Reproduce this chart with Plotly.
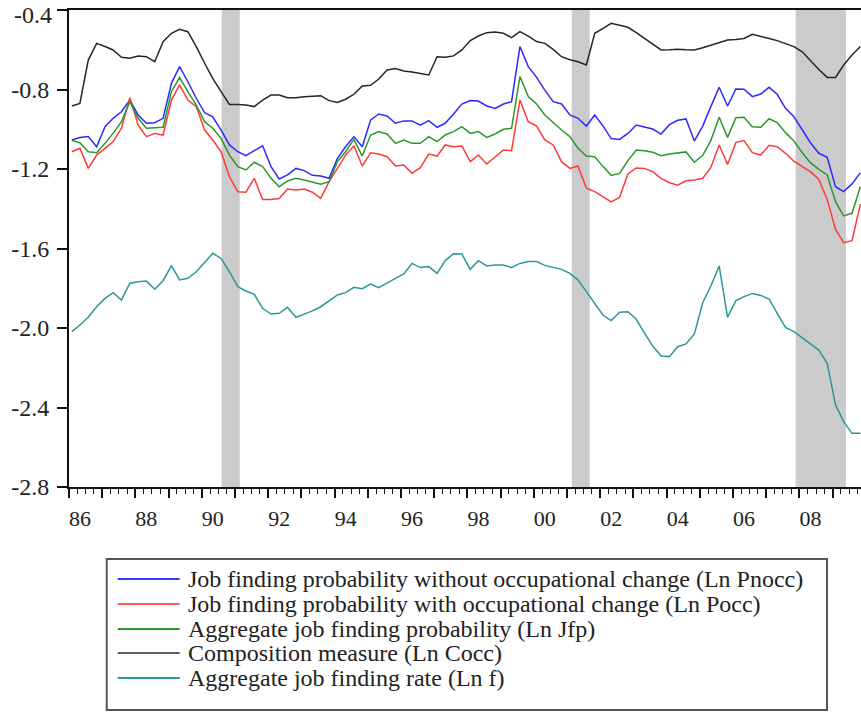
import pandas as pd
import plotly.graph_objects as go

# Quarterly observations 1986Q1 - 2009Q4 (plotted at the middle month of each quarter)
quarters = pd.period_range("1986Q1", "2009Q4", freq="Q")
dates = [p.start_time + pd.DateOffset(months=1) for p in quarters]

ln_pnocc = [
    -1.054, -1.042, -1.037, -1.088, -0.987, -0.945, -0.912, -0.853, -0.928, -0.970,
    -0.967, -0.945, -0.769, -0.685, -0.761, -0.844, -0.917, -0.937, -1.004, -1.079,
    -1.113, -1.133, -1.108, -1.083, -1.188, -1.250, -1.230, -1.197,
    -1.208, -1.232, -1.235, -1.247, -1.146, -1.088, -1.037, -1.088, -0.953, -0.923,
    -0.933, -0.970, -0.958, -0.958, -0.979, -0.957, -0.990, -0.970, -0.923, -0.873,
    -0.856, -0.858, -0.883, -0.895, -0.873, -0.861, -0.584, -0.685, -0.739, -0.803,
    -0.861, -0.873, -0.928,
    -0.945, -0.984, -0.928, -0.984, -1.047, -1.051, -1.021, -0.979, -0.987, -0.999,
    -1.024, -0.977, -0.955, -0.948, -1.059, -0.984, -0.886, -0.789, -0.883, -0.797,
    -0.799, -0.836, -0.823, -0.789, -0.824, -0.895, -0.937, -1.000, -1.068, -1.121,
    -1.141, -1.289, -1.314, -1.275, -1.218,
]

ln_pocc = [
    -1.113, -1.096, -1.197, -1.130, -1.096, -1.062, -0.995, -0.841, -0.979, -1.037,
    -1.021, -1.029, -0.853, -0.777, -0.853, -0.886, -1.004, -1.054, -1.113, -1.239,
    -1.314, -1.317, -1.247, -1.353, -1.353, -1.348, -1.301, -1.306,
    -1.301, -1.317, -1.348, -1.264, -1.197, -1.130, -1.084, -1.185, -1.118, -1.125,
    -1.138, -1.185, -1.180, -1.222, -1.193, -1.125, -1.135, -1.079, -1.088, -1.084,
    -1.163, -1.130, -1.175, -1.138, -1.104, -1.108, -0.853, -0.962, -0.984, -1.054,
    -1.079, -1.163, -1.197,
    -1.185, -1.297, -1.314, -1.339, -1.366, -1.343, -1.225, -1.195, -1.197, -1.213,
    -1.247, -1.269, -1.281, -1.259, -1.255, -1.247, -1.192, -1.079, -1.177, -1.066,
    -1.057, -1.118, -1.130, -1.081, -1.088, -1.121, -1.161, -1.188, -1.213, -1.252,
    -1.353, -1.504, -1.571, -1.561, -1.377,
]

ln_jfp = [
    -1.057, -1.068, -1.113, -1.118, -1.071, -1.021, -0.962, -0.861, -0.945, -0.995,
    -0.992, -0.990, -0.811, -0.740, -0.811, -0.878, -0.962, -0.995, -1.046, -1.130,
    -1.188, -1.205, -1.166, -1.188, -1.247, -1.289, -1.260, -1.247,
    -1.255, -1.264, -1.277, -1.264, -1.163, -1.113, -1.051, -1.135, -1.029, -1.012,
    -1.024, -1.071, -1.054, -1.071, -1.071, -1.037, -1.062, -1.029, -1.012, -0.987,
    -1.021, -1.012, -1.041, -1.024, -1.000, -0.995, -0.735, -0.836, -0.873, -0.928,
    -0.967, -1.004, -1.037,
    -1.096, -1.135, -1.138, -1.188, -1.232, -1.222, -1.158, -1.104, -1.108, -1.116,
    -1.133, -1.125, -1.121, -1.114, -1.166, -1.131, -1.057, -0.940, -1.041, -0.942,
    -0.940, -0.987, -0.990, -0.947, -0.967, -1.017, -1.059, -1.118, -1.168, -1.202,
    -1.230, -1.364, -1.436, -1.423, -1.289,
]

ln_cocc = [
    -0.883, -0.870, -0.652, -0.568, -0.584, -0.601, -0.638, -0.643, -0.631, -0.635,
    -0.660, -0.559, -0.517, -0.497, -0.509, -0.584, -0.668, -0.744, -0.811, -0.875,
    -0.875, -0.878, -0.886, -0.853, -0.828, -0.828, -0.841, -0.841,
    -0.836, -0.834, -0.831, -0.856, -0.865, -0.849, -0.824, -0.782, -0.779, -0.747,
    -0.702, -0.694, -0.707, -0.712, -0.719, -0.727, -0.635, -0.638, -0.631, -0.601,
    -0.554, -0.531, -0.514, -0.511, -0.517, -0.539, -0.509, -0.531, -0.559, -0.568,
    -0.598, -0.635, -0.650,
    -0.660, -0.677, -0.517, -0.492, -0.467, -0.477, -0.487, -0.514, -0.543, -0.571,
    -0.601, -0.600, -0.598, -0.600, -0.601, -0.590, -0.576, -0.563, -0.551, -0.548,
    -0.543, -0.522, -0.531, -0.543, -0.554, -0.568, -0.584, -0.610, -0.655, -0.699,
    -0.739, -0.739, -0.677, -0.626, -0.584,
]

ln_f = [
    -2.018, -1.985, -1.946, -1.893, -1.851, -1.822, -1.859, -1.775, -1.767, -1.764,
    -1.805, -1.762, -1.686, -1.758, -1.750, -1.717, -1.671, -1.624, -1.650, -1.717,
    -1.792, -1.814, -1.831, -1.901, -1.930, -1.926, -1.896, -1.946,
    -1.930, -1.914, -1.893, -1.864, -1.834, -1.822, -1.795, -1.802, -1.779, -1.797,
    -1.772, -1.750, -1.728, -1.675, -1.696, -1.691, -1.725, -1.661, -1.626, -1.628,
    -1.705, -1.661, -1.688, -1.683, -1.683, -1.696, -1.675, -1.666, -1.666, -1.685,
    -1.695, -1.705, -1.725,
    -1.759, -1.817, -1.876, -1.936, -1.963, -1.921, -1.918, -1.956, -2.024, -2.091,
    -2.141, -2.144, -2.094, -2.080, -2.030, -1.873, -1.789, -1.688, -1.946, -1.862,
    -1.842, -1.826, -1.836, -1.854, -1.926, -1.997, -2.018, -2.049, -2.082, -2.111,
    -2.178, -2.387, -2.471, -2.530, -2.530,
]

recessions = [
    ("1990-08-07", "1991-02-22"),
    ("2001-02-21", "2001-09-07"),
    ("2007-11-20", "2009-05-26"),
]

series_names = [
    "Job finding probability without occupational change (Ln Pnocc)",
    "Job finding probability with occupational change (Ln Pocc)",
    "Aggregate job finding probability (Ln Jfp)",
    "Composition measure (Ln Cocc)",
    "Aggregate job finding rate (Ln f)",
]
series_values = [ln_pnocc, ln_pocc, ln_jfp, ln_cocc, ln_f]
series_colors = ["#2b2bff", "#ff3a3a", "#2a982a", "#262626", "#2a9898"]
legend_colors = ["#3a3aff", "#ff5a5a", "#2a982a", "#606060", "#2a9898"]

y_ticks = [-2.8, -2.4, -2.0, -1.6, -1.2, -0.8, -0.4]
y_ticktext = ["%.1f" % v for v in y_ticks]
years = list(range(1986, 2010))
x_tickvals = ["%d-01-01" % y for y in years]
x_ticktext = ["%02d" % (y % 100) if y % 2 == 0 else "" for y in years]

FONT = "Liberation Serif"

fig = go.Figure()
for name, vals, col in zip(series_names, series_values, series_colors):
    fig.add_trace(go.Scatter(x=dates, y=vals, mode="lines", name=name,
                             line=dict(color=col, width=1.5), showlegend=False))

for x0, x1 in recessions:
    fig.add_shape(type="rect", xref="x", yref="paper", x0=x0, x1=x1, y0=0, y1=1,
                  fillcolor="#cbcbcb", line=dict(width=0), layer="below")

# plot-area geometry (pixels) for the legend box below the plot
L, R, T, B = 69.3, 861.0, 10.0, 487.0
def px(x):
    return (x - L) / (R - L)
def py(y):
    return (B - y) / (B - T)

fig.add_shape(type="rect", xref="paper", yref="paper",
              x0=px(107), x1=px(827), y0=py(710), y1=py(559),
              line=dict(color="#555555", width=2), fillcolor="rgba(0,0,0,0)")
row_y = [579, 604, 629, 653, 678]
for name, col, ry in zip(series_names, legend_colors, row_y):
    fig.add_shape(type="line", xref="paper", yref="paper",
                  x0=px(118), x1=px(180), y0=py(ry), y1=py(ry),
                  line=dict(color=col, width=2))
    fig.add_annotation(xref="paper", yref="paper", x=px(186), y=py(ry),
                       text=name, showarrow=False, xanchor="left", yanchor="middle",
                       font=dict(family=FONT, size=24, color="#222222"))

# the top tick label sits just inside the figure (nudged down like the original)
top_label = y_ticktext[-1]
y_ticktext_axis = y_ticktext[:-1] + [""]
fig.add_annotation(xref="paper", yref="paper", x=px(53), y=py(15),
                   text=top_label, showarrow=False, xanchor="right", yanchor="middle",
                   borderpad=0, font=dict(family=FONT, size=24, color="#222222"))

fig.update_layout(
    width=861, height=712,
    margin=dict(l=69.3, r=0, t=10, b=225, autoexpand=False),
    paper_bgcolor="white", plot_bgcolor="white",
    font=dict(family=FONT, size=22, color="#222222"),
    showlegend=False,
)
fig.update_xaxes(
    type="date", range=["1986-01-01", "2009-11-08"], automargin=False,
    tickmode="array", tickvals=x_tickvals, ticktext=x_ticktext,
    ticks="outside", ticklen=9, tickwidth=2, tickcolor="#111111",
    ticklabelshift=11, ticklabelstandoff=2, ticklabeloverflow="allow",
    minor=dict(ticks="outside", ticklen=5, tickwidth=1, tickcolor="#111111",
               dtick="M3", tick0="1986-01-01", showgrid=False),
    showline=True, linecolor="#111111", linewidth=2, mirror=True,
    showgrid=False, zeroline=False,
    tickfont=dict(family=FONT, size=22, color="#222222"),
)
fig.update_yaxes(
    range=[-2.8, -0.4], automargin=False, tickmode="array", tickvals=y_ticks,
    ticktext=y_ticktext_axis,
    ticks="outside", ticklen=10, tickwidth=2, tickcolor="#111111",
    ticklabelstandoff=3, ticklabeloverflow="allow",
    showline=True, linecolor="#111111", linewidth=2,
    showgrid=False, zeroline=False,
    tickfont=dict(family=FONT, size=24, color="#222222"),
)

fig.write_html("out.html", config={"displayModeBar": False},
               post_script="document.body.style.margin='0';")
